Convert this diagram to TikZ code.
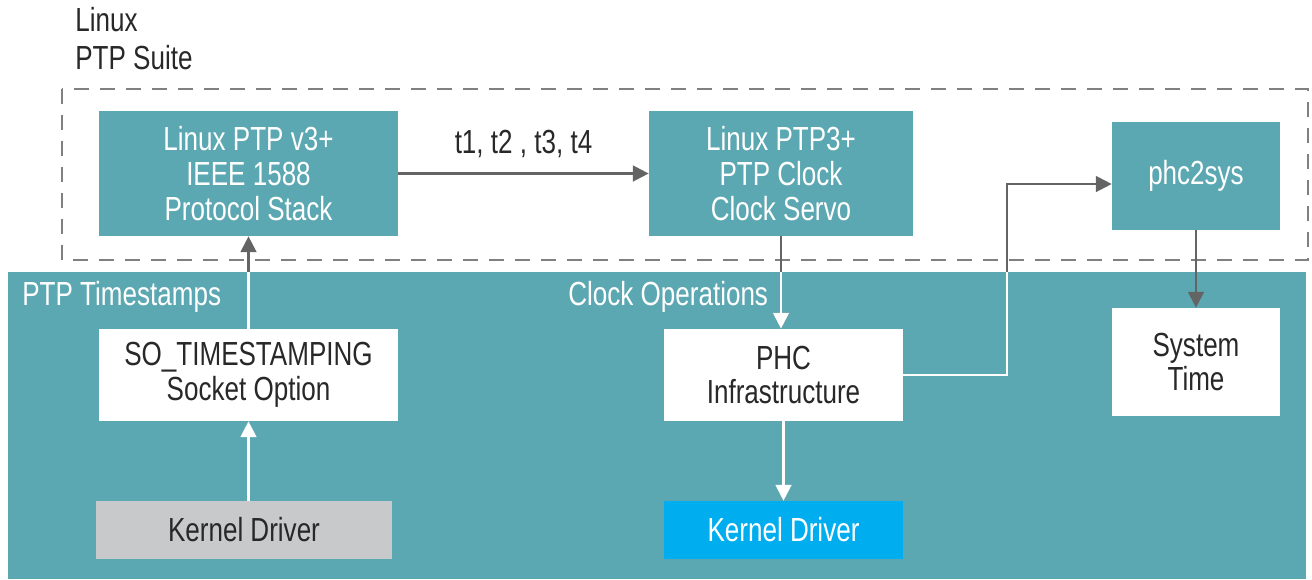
\documentclass[tikz,border=0pt]{standalone}
\usepackage{fontspec}
\setmainfont[FakeStretch=0.78]{Liberation Sans}
\usepackage{tikz}
\usetikzlibrary{arrows.meta}
\usetikzlibrary{positioning}

\definecolor{ptpteal}{RGB}{91,168,178}
\definecolor{drvgrey}{RGB}{200,201,203}
\definecolor{drvblue}{RGB}{0,174,239}
\definecolor{linkgrey}{RGB}{100,100,100}
\definecolor{dashgrey}{RGB}{128,128,128}
\definecolor{txtdark}{RGB}{40,40,40}

\tikzset{
  box/.style={inner sep=0pt, align=center, font=\fontsize{19}{19.8}\selectfont},
  tealbox/.style={box, fill=ptpteal, text=white},
  whitebox/.style={box, fill=white, text=txtdark},
  greybox/.style={box, fill=drvgrey, text=txtdark},
  bluebox/.style={box, fill=drvblue, text=white},
  link/.style={line width=1.3pt, draw=linkgrey, -{Triangle[width=9pt,length=9pt]}},
  wlink/.style={line width=1.3pt, draw=white, -{Triangle[width=9pt,length=9pt]}},
  tag/.style={anchor=west, inner sep=0pt, font=\fontsize{19}{21.5}\selectfont}
}

\begin{document}
\begin{tikzpicture}[x=0.02cm,y=-0.02cm]
\useasboundingbox (0,0) rectangle (1312,579);
% background areas
\fill[ptpteal] (8,272) rectangle (1306,579);
\draw[dashgrey, line width=1.2pt, dash pattern=on 0.3cm off 0.22cm] (62,89) rectangle (1308,260);
\node[tag, text=txtdark, align=left, anchor=north west] (suite) at (75,7) {Linux\\PTP Suite};
\node[tag, text=white] (tslabel) at (22,297) {PTP Timestamps};
\node[tag, text=white] (oplabel) at (568,297) {Clock Operations};

% upper boxes
\node[tealbox, minimum width=299*0.02cm, minimum height=125*0.02cm] (stack) at (248.5,173.5) {Linux PTP v3+\\IEEE 1588\\Protocol Stack};
\node[tealbox, minimum width=264*0.02cm, minimum height=125*0.02cm] (servo) at (781,173.5) {Linux PTP3+\\PTP Clock\\Clock Servo};
\node[tealbox, minimum width=168*0.02cm, minimum height=108*0.02cm] (phcsys) at (1196,176) {phc2sys};

% lower boxes
\node[whitebox, minimum width=299*0.02cm, minimum height=92*0.02cm] (sots) at (248.5,375) {SO\_TIMESTAMPING\\Socket Option};
\node[greybox, minimum width=296*0.02cm, minimum height=58*0.02cm] (kdrvA) at (244,530) {Kernel Driver};
\node[whitebox, minimum width=239*0.02cm, minimum height=92*0.02cm] (phc) at (783.5,375) {PHC\\Infrastructure};
\node[bluebox, minimum width=239*0.02cm, minimum height=58*0.02cm] (kdrvB) at (783.5,530) {Kernel Driver};
\node[whitebox, minimum width=168*0.02cm, minimum height=108*0.02cm] (systime) at (1196,362) {System\\Time};

\coordinate (bend) at (1007,184);

% connectors
\draw[link] (stack.east) -- node[above=5pt, text=txtdark, font=\fontsize{19}{21.5}\selectfont] {t1, t2 , t3, t4} (servo.west);
\draw[link] (sots.north) -- (stack.south);
\draw[link] (servo.south) -- (servo.south |- phc.north);
\draw[link] (phc.east) -| (bend) -- (bend -| phcsys.west);
\draw[link] (phcsys.south) -- (systime.north);
\draw[wlink] (kdrvA.north -| sots) -- (sots.south);
\draw[wlink] (phc.south) -- (kdrvB.north);

% crossing lines turn white over the teal area
\begin{scope}
\clip (8,272) rectangle (1306,579);
\draw[wlink] (sots.north) -- (stack.south);
\draw[wlink] (servo.south) -- (servo.south |- phc.north);
\draw[wlink] (phc.east) -| (bend) -- (bend -| phcsys.west);
\end{scope}
\end{tikzpicture}
\end{document}
